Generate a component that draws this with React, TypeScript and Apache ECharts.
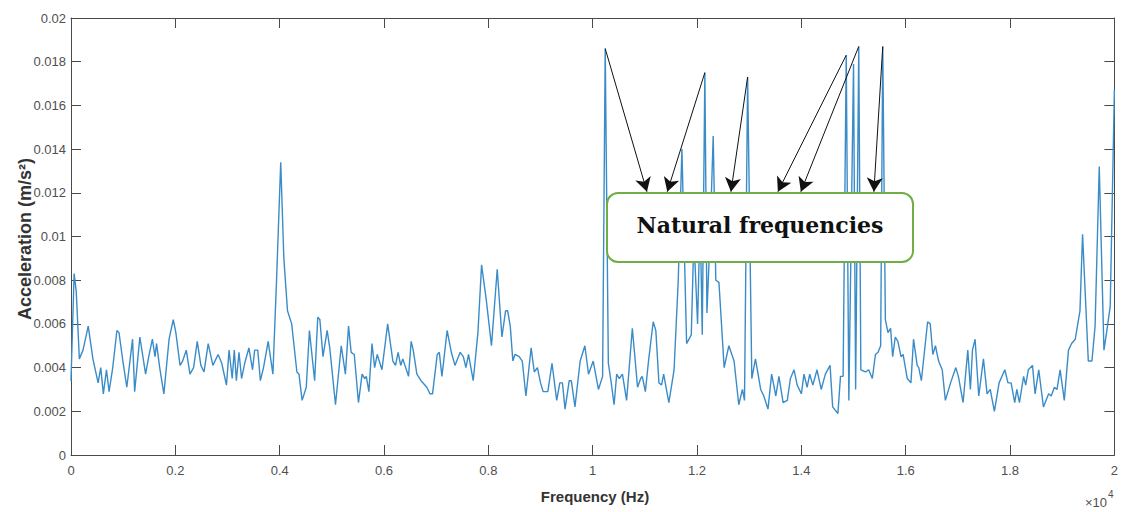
import React, { useEffect, useRef } from "react";
import * as echarts from "echarts";

const FREQ_HZ: number[] = [0,60,100,160,230,330,420,520,570,620,680,730,800,880,920,1000,1070,1180,1220,1320,1430,1490,1560,1610,1640,1700,1780,1880,1960,2010,2090,2140,2210,2280,2350,2420,2490,2550,2630,2720,2820,2890,2980,3030,3090,3130,3170,3220,3270,3330,3410,3480,3520,3580,3630,3690,3780,3870,3940,4020,4080,4150,4230,4330,4370,4430,4510,4570,4670,4730,4770,4830,4910,4960,5070,5180,5260,5320,5370,5430,5510,5580,5630,5660,5710,5770,5820,5870,5960,6070,6170,6220,6270,6320,6360,6470,6520,6560,6630,6710,6820,6880,6930,7020,7060,7110,7210,7290,7360,7460,7520,7570,7620,7710,7800,7870,7960,8060,8170,8260,8330,8370,8420,8470,8510,8590,8650,8720,8820,8880,8940,9000,9050,9140,9220,9310,9370,9420,9470,9550,9590,9660,9760,9850,9920,10010,10110,10190,10240,10300,10350,10410,10460,10510,10570,10650,10760,10860,10920,10950,11010,11070,11160,11210,11270,11320,11360,11460,11560,11640,11710,11800,11890,11940,12010,12060,12100,12150,12190,12250,12310,12360,12420,12520,12610,12710,12800,12870,12910,12970,13050,13120,13220,13280,13360,13430,13510,13570,13650,13730,13790,13860,13920,14000,14050,14110,14160,14220,14300,14380,14460,14550,14600,14700,14750,14800,14860,14910,15000,15040,15100,15140,15230,15290,15360,15420,15470,15520,15560,15610,15660,15710,15750,15800,15850,15910,15950,16030,16100,16150,16220,16250,16300,16420,16470,16520,16570,16630,16700,16760,16860,16960,17010,17100,17190,17240,17280,17330,17400,17490,17560,17620,17700,17790,17900,17960,18020,18090,18130,18180,18260,18300,18350,18430,18480,18550,18640,18740,18790,18850,18900,18960,19040,19120,19180,19250,19340,19390,19500,19570,19630,19710,19800,19850,19920,20000];

const ACCEL: number[] = [0.0034,0.0083,0.0075,0.0044,0.0048,0.0059,0.0044,0.0033,0.0040,0.0028,0.0039,0.0029,0.0040,0.0057,0.0056,0.0042,0.0031,0.0053,0.0029,0.0054,0.0037,0.0045,0.0053,0.0045,0.0051,0.0040,0.0028,0.0053,0.0062,0.0056,0.0041,0.0043,0.0048,0.0037,0.0040,0.0052,0.0041,0.0038,0.0051,0.0041,0.0046,0.0042,0.0032,0.0048,0.0035,0.0048,0.0034,0.0047,0.0035,0.0042,0.0049,0.0039,0.0048,0.0048,0.0034,0.0040,0.0052,0.0037,0.0080,0.0134,0.0090,0.0066,0.0060,0.0038,0.0037,0.0025,0.0031,0.0057,0.0034,0.0063,0.0062,0.0045,0.0057,0.0049,0.0023,0.0050,0.0037,0.0059,0.0047,0.0046,0.0024,0.0037,0.0035,0.0036,0.0029,0.0051,0.0040,0.0046,0.0039,0.0060,0.0043,0.0041,0.0047,0.0041,0.0044,0.0036,0.0052,0.0048,0.0037,0.0034,0.0031,0.0028,0.0028,0.0046,0.0047,0.0036,0.0057,0.0047,0.0041,0.0047,0.0045,0.0040,0.0046,0.0034,0.0056,0.0087,0.0071,0.0050,0.0085,0.0054,0.0066,0.0066,0.0059,0.0043,0.0046,0.0045,0.0043,0.0027,0.0049,0.0038,0.0040,0.0033,0.0029,0.0029,0.0042,0.0025,0.0033,0.0033,0.0021,0.0034,0.0034,0.0022,0.0043,0.0050,0.0037,0.0043,0.0030,0.0036,0.0186,0.0042,0.0034,0.0023,0.0037,0.0035,0.0037,0.0025,0.0058,0.0031,0.0035,0.0036,0.0029,0.0043,0.0061,0.0057,0.0033,0.0032,0.0037,0.0024,0.0039,0.0080,0.0140,0.0051,0.0055,0.0100,0.0060,0.0110,0.0055,0.0175,0.0065,0.0100,0.0146,0.0080,0.0079,0.0040,0.0050,0.0043,0.0023,0.0030,0.0025,0.0173,0.0035,0.0044,0.0030,0.0027,0.0021,0.0037,0.0027,0.0036,0.0024,0.0025,0.0035,0.0039,0.0032,0.0028,0.0037,0.0031,0.0037,0.0032,0.0039,0.0030,0.0037,0.0041,0.0022,0.0019,0.0036,0.0036,0.0183,0.0025,0.0179,0.0030,0.0187,0.0039,0.0038,0.0039,0.0035,0.0046,0.0047,0.0050,0.0187,0.0062,0.0056,0.0058,0.0045,0.0054,0.0052,0.0045,0.0046,0.0035,0.0033,0.0053,0.0041,0.0040,0.0034,0.0061,0.0060,0.0046,0.0050,0.0043,0.0039,0.0025,0.0033,0.0040,0.0036,0.0024,0.0048,0.0030,0.0048,0.0053,0.0027,0.0044,0.0028,0.0030,0.0020,0.0033,0.0039,0.0033,0.0033,0.0024,0.0030,0.0024,0.0036,0.0032,0.0039,0.0041,0.0028,0.0039,0.0022,0.0028,0.0027,0.0031,0.0030,0.0039,0.0025,0.0048,0.0051,0.0053,0.0066,0.0101,0.0043,0.0043,0.0059,0.0132,0.0048,0.0056,0.0068,0.0167];

// Annotation arrows: from natural-frequency peak tips to the label box
const ARROW_FROM: [number, number][] = [
  [10240, 0.0186],
  [12150, 0.0175],
  [12970, 0.0173],
  [14860, 0.0183],
  [15100, 0.0187],
  [15560, 0.0187],
];
const ARROW_TO: [number, number][] = [
  [11040, 0.01205],
  [11430, 0.01205],
  [12650, 0.01205],
  [13550, 0.01205],
  [13990, 0.01205],
  [15390, 0.01205],
];

const ANNOTATION_TEXT = "Natural frequencies";
const X_TITLE = "Frequency (Hz)";
const Y_TITLE = "Acceleration (m/s\u00b2)";

export default function App() {
  const ref = useRef<HTMLDivElement>(null);
  useEffect(() => {
    if (!ref.current) return;
    const chart = echarts.init(ref.current, undefined, { renderer: "svg" });
    const axisColor = "#4a4a4a";
    const labelColor = "#505050";
    const sans = "'Liberation Sans', Arial, sans-serif";
    const data = FREQ_HZ.map((f, i) => [f, ACCEL[i]]);
    const xCommon = {
      type: "value" as const,
      min: 0,
      max: 20000,
      interval: 2000,
      splitLine: { show: false },
      axisLine: { show: true, onZero: false, lineStyle: { color: axisColor, width: 1 } },
      axisTick: { show: true, inside: true, length: 10, lineStyle: { color: axisColor } },
    };
    const yCommon = {
      type: "value" as const,
      min: 0,
      max: 0.02,
      interval: 0.002,
      splitLine: { show: false },
      axisLine: { show: true, onZero: false, lineStyle: { color: axisColor, width: 1 } },
      axisTick: { show: true, inside: true, length: 10, lineStyle: { color: axisColor } },
    };
    chart.setOption({
      animation: false,
      backgroundColor: "#ffffff",
      grid: { left: 71, right: 5, top: 18, bottom: 57, containLabel: false },
      xAxis: [
        {
          ...xCommon,
          position: "bottom",
          axisLabel: {
            show: true,
            margin: 9,
            color: labelColor,
            fontSize: 13,
            fontFamily: sans,
            formatter: (v: number) => String(Number((v / 10000).toFixed(1))),
          },
        },
        { ...xCommon, position: "top", axisLabel: { show: false } },
      ],
      yAxis: [
        {
          ...yCommon,
          position: "left",
          axisLabel: {
            show: true,
            margin: 5,
            color: labelColor,
            fontSize: 13,
            fontFamily: sans,
            formatter: (v: number) => String(Number(v.toFixed(3))),
          },
        },
        { ...yCommon, position: "right", axisLabel: { show: false } },
      ],
      series: [
        {
          type: "line",
          xAxisIndex: 0,
          yAxisIndex: 0,
          data,
          showSymbol: false,
          symbol: "none",
          smooth: false,
          lineStyle: { color: "#3a8cc8", width: 1.4 },
          z: 2,
          markLine: {
            silent: true,
            symbol: ["none", "arrow"],
            symbolSize: [12, 14],
            label: { show: false },
            lineStyle: { color: "#111111", width: 1, type: "solid" },
            data: ARROW_FROM.map((p, i) => [{ coord: p }, { coord: ARROW_TO[i] }]),
          },
        },
      ],
      graphic: [
        {
          type: "rect",
          z: 100,
          shape: { x: 607, y: 193, width: 306, height: 69, r: 11 },
          style: { fill: "#ffffff", stroke: "#70AD47", lineWidth: 2 },
        },
        {
          type: "text",
          z: 101,
          x: 760,
          y: 225,
          style: {
            text: ANNOTATION_TEXT,
            fill: "#111111",
            font: "bold 22px 'DejaVu Serif', 'Liberation Serif', serif",
            align: "center",
            verticalAlign: "middle",
          },
        },
        {
          type: "text",
          z: 101,
          x: 595,
          y: 496,
          style: {
            text: X_TITLE,
            fill: "#333333",
            font: `bold 15px ${sans}`,
            align: "center",
            verticalAlign: "middle",
          },
        },
        {
          type: "text",
          z: 101,
          x: 25,
          y: 239,
          rotation: Math.PI / 2,
          style: {
            text: Y_TITLE,
            fill: "#333333",
            font: `bold 18px ${sans}`,
            align: "center",
            verticalAlign: "middle",
          },
        },
        {
          type: "text",
          z: 101,
          x: 1107,
          y: 502,
          style: {
            text: "\u00d710",
            fill: labelColor,
            font: `13px ${sans}`,
            align: "right",
            verticalAlign: "middle",
          },
        },
        {
          type: "text",
          z: 101,
          x: 1108,
          y: 494,
          style: {
            text: "4",
            fill: labelColor,
            font: `10px ${sans}`,
            align: "left",
            verticalAlign: "middle",
          },
        },
      ],
    });
    return () => chart.dispose();
  }, []);
  return (
    <div
      ref={ref}
      style={{ position: "fixed", left: 0, top: 0, width: 1121, height: 512, background: "#fff" }}
    />
  );
}
